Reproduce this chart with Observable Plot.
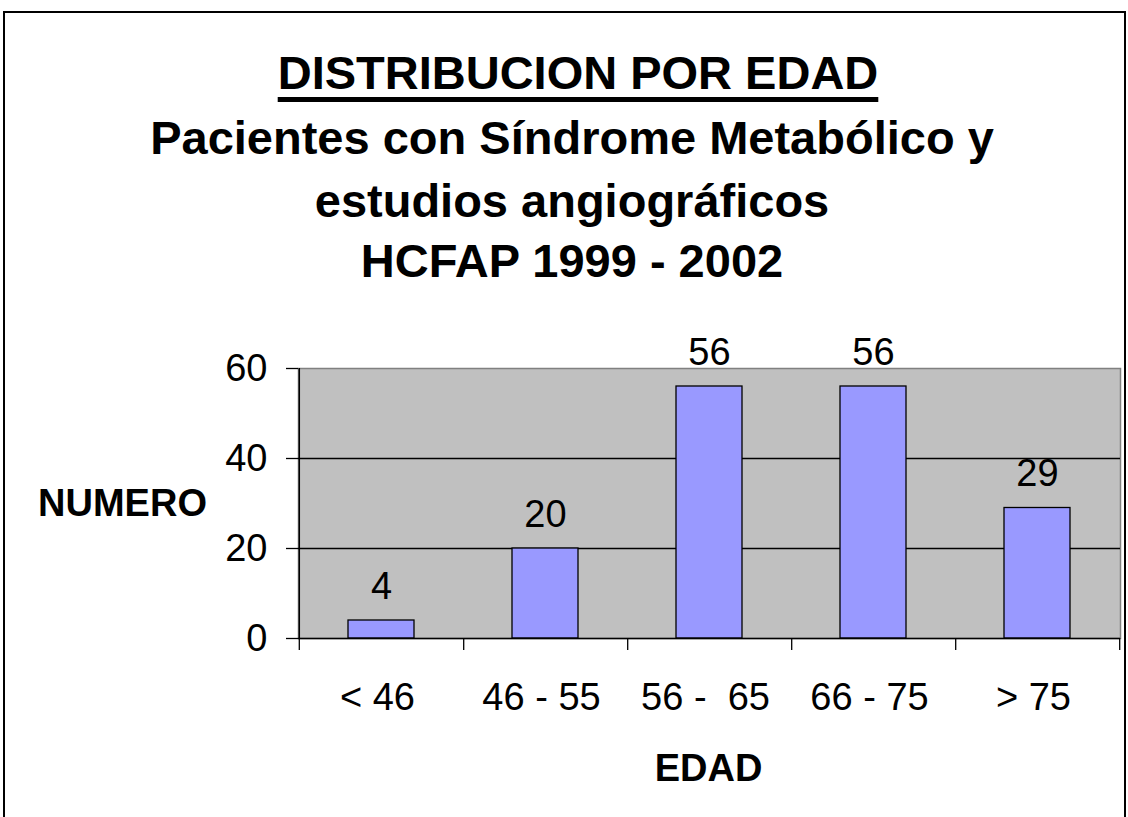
<!DOCTYPE html>
<html>
<head>
<meta charset="utf-8">
<script src="https://cdn.jsdelivr.net/npm/d3@7"></script>
<script src="https://cdn.jsdelivr.net/npm/@observablehq/plot@0.6"></script>
<style>
  html, body { margin: 0; padding: 0; background: #fff; }
  body { width: 1128px; height: 817px; overflow: hidden; position: relative; font-family: Arial, "Liberation Sans", sans-serif; }
  .frame { position: absolute; left: 3px; top: 11px; width: 1119px; height: 830px; border: 2px solid #000; z-index: 5; pointer-events: none; }
  .t { position: absolute; left: 72px; width: 1000px; text-align: center; font-weight: bold; font-size: 47px; line-height: 47px; color: #000; z-index: 4; white-space: nowrap; }
  .u { text-decoration: underline; text-decoration-thickness: 5px; text-underline-offset: 8px; }
  #chart { position: absolute; left: 0; top: 0; }
</style>
</head>
<body>
<div class="frame"></div>
<div class="t" style="top:49px; left:78px"><span class="u">DISTRIBUCION POR EDAD</span></div>
<div class="t" style="top:114px">Pacientes con Síndrome Metabólico y</div>
<div class="t" style="top:177px">estudios angiográficos</div>
<div class="t" style="top:237px">HCFAP 1999 - 2002</div>
<div id="chart"></div>
<script>
const categories = ["< 46", "46 - 55", "56 - \u00a065", "66 - 75", "> 75"];
const values = [4, 20, 56, 56, 29];
const yTicks = [0, 20, 40, 60];
const gridValues = [20, 40];
const yLabel = "NUMERO";
const xLabel = "EDAD";

const data = categories.map((c, i) => ({cat: c, n: values[i]}));

const W = 1128, H = 817;
const mL = 298, mR = 8, mT = 368, mB = 179;
const step = (W - mL - mR) / categories.length;
const FS = 38;

const chart = Plot.plot({
  width: W,
  height: H,
  marginLeft: mL,
  marginRight: mR,
  marginTop: mT,
  marginBottom: mB,
  style: {background: "transparent", fontFamily: "Arial, 'Liberation Sans', sans-serif", fontSize: FS + "px", color: "#000"},
  x: {type: "band", domain: categories, paddingInner: 0.6, paddingOuter: 0.3, axis: null, label: null},
  y: {domain: [0, 60], axis: null, label: null},
  marks: [
    Plot.frame({fill: "#C0C0C0", stroke: "#808080", strokeWidth: 1.5}),
    Plot.ruleY(gridValues, {stroke: "#000", strokeWidth: 1.3}),
    Plot.barY(data, {x: "cat", y: "n", fill: "#9999FF", stroke: "#000", strokeWidth: 1.3}),
    Plot.ruleY([0], {stroke: "#000", strokeWidth: 1.5}),
    Plot.ruleX([categories[0]], {dx: -step / 2, stroke: "#000", strokeWidth: 1.5}),
    Plot.ruleX(categories, {dx: step / 2, insetTop: H - mT - mB, insetBottom: -12, stroke: "#000", strokeWidth: 1.3}),
    Plot.ruleX([categories[0]], {dx: -step / 2, insetTop: H - mT - mB, insetBottom: -12, stroke: "#000", strokeWidth: 1.3}),
    Plot.axisY({ticks: yTicks, tickSize: 12, tickPadding: 19, fontSize: FS, label: null, tickFormat: d => String(d), stroke: "#000", strokeWidth: 1.3}),
    Plot.axisX({tickSize: 0, tickPadding: 45, fontSize: FS, label: null, dx: -4}),
    Plot.text(data, {x: "cat", y: "n", text: d => String(d.n), lineAnchor: "bottom", dy: -22, fontSize: FS, fill: "#000"}),
    Plot.text([yLabel], {frameAnchor: "left", text: d => d, dx: -176, textAnchor: "middle", lineAnchor: "middle", fontWeight: "bold", fontSize: FS, fill: "#000"}),
    Plot.text([xLabel], {frameAnchor: "bottom", text: d => d, dy: 130, dx: -1, textAnchor: "middle", lineAnchor: "middle", fontWeight: "bold", fontSize: FS, fill: "#000"})
  ]
});
document.getElementById("chart").appendChild(chart);
</script>
</body>
</html>
